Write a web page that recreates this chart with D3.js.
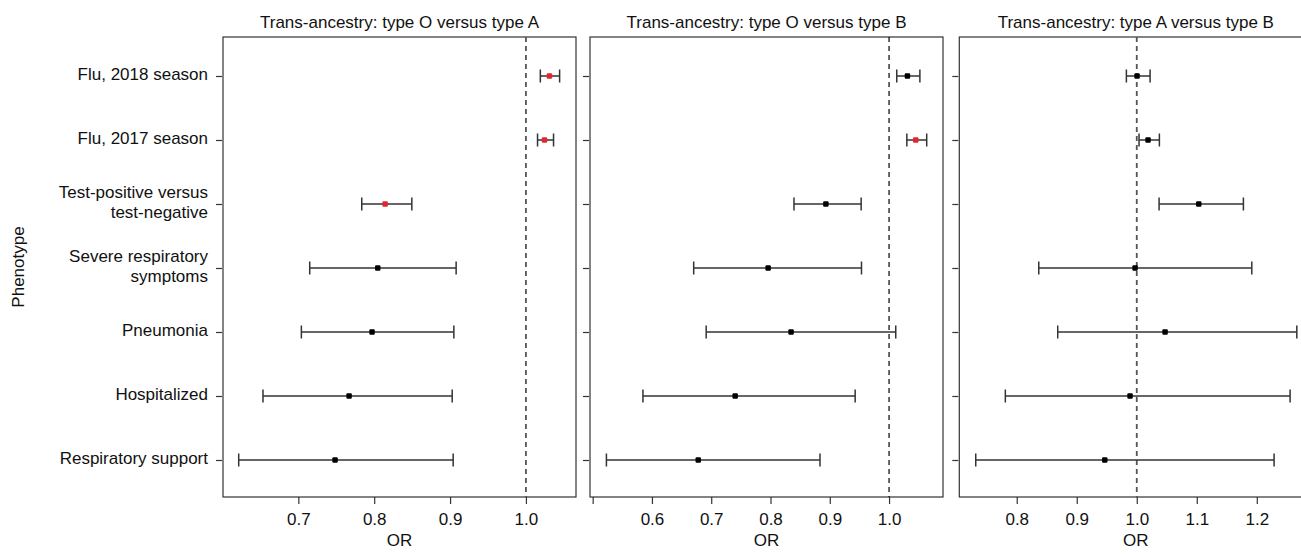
<!DOCTYPE html>
<html>
<head>
<meta charset="utf-8">
<script src="https://cdn.jsdelivr.net/npm/d3@7"></script>
<style>
  body { margin: 0; background: #fff; overflow: hidden; }
  svg { font-family: "Liberation Sans", Arial, Helvetica, sans-serif; }
</style>
</head>
<body>
<div id="chart-area"></div>
<script>

// Data
let phenotypes = ["Flu, 2018 season", "Flu, 2017 season", "Test-positive versus\ntest-negative",
    "Severe respiratory\nsymptoms", "Pneumonia", "Hospitalized", "Respiratory support"];

let titles = ["Trans-ancestry: type O versus type A",
    "Trans-ancestry: type O versus type B",
    "Trans-ancestry: type A versus type B"];

// O vs A
let orOA = [1.031, 1.0245, 0.8144, 0.8047, 0.7972, 0.7669, 0.7484];
let loOA = [1.019, 1.0153, 0.7836, 0.715, 0.704, 0.6534, 0.6214];
let hiOA = [1.0444, 1.0364, 0.8496, 0.908, 0.905, 0.9028, 0.9041];
let sigOA = [1, 1, 1, 0, 0, 0, 0];

// O vs B
let orOB = [1.031, 1.045, 0.8934, 0.796, 0.8347, 0.7404, 0.6781];
let loOB = [1.013, 1.030, 0.8396, 0.6704, 0.6915, 0.5848, 0.5232];
let hiOB = [1.052, 1.0635, 0.9529, 0.9535, 1.0113, 0.9428, 0.8835];
let sigOB = [0, 1, 0, 0, 0, 0, 0];

// A vs B
let orAB = [1.0005, 1.0188, 1.1033, 0.9972, 1.0472, 0.9888, 0.9467];
let loAB = [0.9827, 1.0038, 1.0372, 0.8367, 0.8683, 0.781, 0.7317];
let hiAB = [1.0222, 1.0377, 1.1777, 1.1917, 1.2667, 1.2555, 1.2288];
let sigAB = [0, 0, 0, 0, 0, 0, 0];

// axis ranges and ticks
let xDomains = [[0.6007, 1.066], [0.4955, 1.091], [0.7043, 1.2925]];
let xTicks = [[0.7, 0.8, 0.9, 1.0], [0.5, 0.6, 0.7, 0.8, 0.9, 1.0], [0.8, 0.9, 1.0, 1.1, 1.2]];
let hiddenTickLabels = [[], [0.5], []];

let panels = [
    {or: orOA, lo: loOA, hi: hiOA, sig: sigOA},
    {or: orOB, lo: loOB, hi: hiOB, sig: sigOB},
    {or: orAB, lo: loAB, hi: hiAB, sig: sigAB}
];

// SVG drawing area
let W = 1301, H = 554;
let panelLeft = [223, 590, 959.3];
let panelWidth = 353;
let boxTop = 37, boxBottom = 497;
let fontSize = 17;

let svg = d3.select("#chart-area").append("svg")
    .attr("width", W)
    .attr("height", H);

let y = d3.scaleLinear()
    .domain([0, 6])
    .range([76, 460]);

let lineCol = "#333";

panels.forEach(function(p, k) {

    let x = d3.scaleLinear()
        .domain(xDomains[k])
        .range([panelLeft[k], panelLeft[k] + panelWidth]);

    let g = svg.append("g");

    // title
    g.append("text")
        .attr("x", panelLeft[k] + panelWidth / 2)
        .attr("y", 28)
        .attr("text-anchor", "middle")
        .attr("font-size", fontSize)
        .attr("fill", "#111")
        .text(titles[k]);

    // box
    g.append("rect")
        .attr("x", panelLeft[k])
        .attr("y", boxTop)
        .attr("width", panelWidth)
        .attr("height", boxBottom - boxTop)
        .attr("fill", "none")
        .attr("stroke", lineCol)
        .attr("stroke-width", 1.2);

    // x axis
    let xAxis = d3.axisBottom(x)
        .tickValues(xTicks[k])
        .tickSize(7)
        .tickSizeOuter(0)
        .tickPadding(9)
        .tickFormat(d => hiddenTickLabels[k].indexOf(d) >= 0 ? "" : d3.format(".1f")(d));

    let xa = g.append("g")
        .attr("transform", "translate(0," + boxBottom + ")")
        .call(xAxis);
    xa.select(".domain").remove();
    xa.selectAll("line").attr("stroke", lineCol).attr("stroke-width", 1.2);
    xa.selectAll("text")
        .attr("font-size", fontSize)
        .attr("fill", "#111")
        .attr("font-family", "Liberation Sans, Arial, sans-serif");

    g.append("text")
        .attr("x", panelLeft[k] + panelWidth / 2)
        .attr("y", 546)
        .attr("text-anchor", "middle")
        .attr("font-size", fontSize)
        .attr("fill", "#111")
        .text("OR");

    // y axis ticks
    let yAxis = d3.axisLeft(y)
        .tickValues(d3.range(phenotypes.length))
        .tickSize(6)
        .tickSizeOuter(0)
        .tickFormat("");

    let ya = g.append("g")
        .attr("transform", "translate(" + (panelLeft[k] - 1) + ",0)")
        .call(yAxis);
    ya.select(".domain").remove();
    ya.selectAll("line").attr("stroke", lineCol).attr("stroke-width", 1.2);

    // reference line at OR = 1
    g.append("line")
        .attr("x1", x(1)).attr("x2", x(1))
        .attr("y1", boxTop).attr("y2", boxBottom)
        .attr("stroke", k == 1 ? "#000" : "#555")
        .attr("stroke-width", k == 1 ? 1.2 : 1.8)
        .attr("stroke-dasharray", "5,4");

    let idx = d3.range(phenotypes.length);

    // error bars
    g.selectAll(".ci")
        .data(idx)
        .enter().append("line")
        .attr("class", "ci")
        .attr("x1", i => x(p.lo[i]))
        .attr("x2", i => x(p.hi[i]))
        .attr("y1", i => y(i))
        .attr("y2", i => y(i))
        .attr("stroke", lineCol)
        .attr("stroke-width", 1.5);

    ["lo", "hi"].forEach(function(side) {
        g.selectAll(".cap-" + side)
            .data(idx)
            .enter().append("line")
            .attr("class", "cap-" + side)
            .attr("x1", i => x(p[side][i]))
            .attr("x2", i => x(p[side][i]))
            .attr("y1", i => y(i) - 6.5)
            .attr("y2", i => y(i) + 6.5)
            .attr("stroke", lineCol)
            .attr("stroke-width", 1.5);
    });

    // point estimates
    g.selectAll(".pt")
        .data(idx)
        .enter().append("rect")
        .attr("class", "pt")
        .attr("x", i => x(p.or[i]) - 2.7)
        .attr("y", i => y(i) - 2.7)
        .attr("width", 5.4)
        .attr("height", 5.4)
        .attr("rx", 1)
        .attr("fill", i => p.sig[i] ? "#e3262b" : "#000");
});

// phenotype labels
phenotypes.forEach(function(lab, i) {
    let lines = lab.split("\n");
    let t = svg.append("text")
        .attr("x", 208)
        .attr("text-anchor", "end")
        .attr("font-size", fontSize)
        .attr("fill", "#111");
    lines.forEach(function(s, j) {
        let off = lines.length == 1 ? 0 : (j == 0 ? -10 : 10);
        t.append("tspan")
            .attr("x", 208)
            .attr("y", y(i) + off - 2)
            .attr("dy", "0.35em")
            .text(s);
    });
});

svg.append("text")
    .attr("transform", "translate(24," + ((boxTop + boxBottom) / 2) + ") rotate(-90)")
    .attr("text-anchor", "middle")
    .attr("font-size", fontSize)
    .attr("fill", "#111")
    .text("Phenotype");

</script>
</body>
</html>
